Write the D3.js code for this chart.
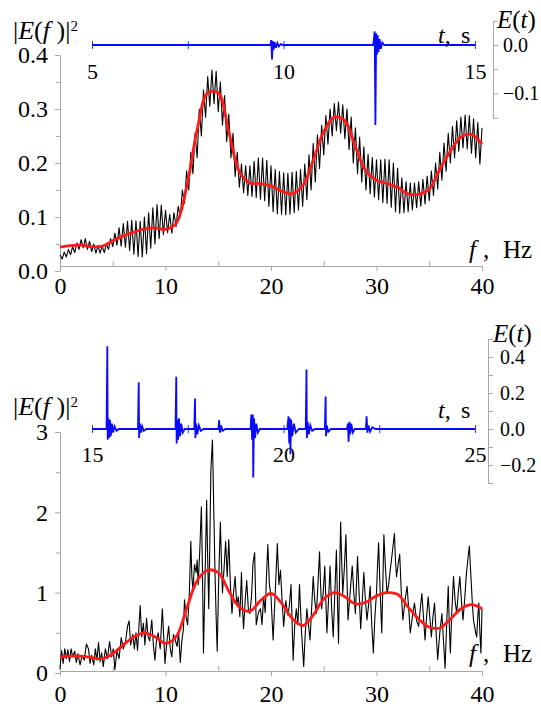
<!DOCTYPE html>
<html>
<head>
<meta charset="utf-8">
<script src="https://cdn.jsdelivr.net/npm/d3@7"></script>
<style>
  body { margin: 0; background: #fff; }
  text { font-family: "Liberation Serif", "Times New Roman", serif; }
</style>
</head>
<body>
<svg id="chart" width="541" height="706"></svg>
<script>
// ---------- data ----------
// upper panel: fine oscillation of |E(f)|^2, peaks at 0, 0.4, 0.8 ... Hz, troughs half-way between
const topPeaks = [
  .030, .035, .040, .045, .052, .058, .060, .055, .050, .047,
  .046, .050, .060, .070, .080, .088, .092, .094, .093, .092,
  .100, .108, .117, .123, .122, .112, .105, .108, .120, .150,
  .185, .220, .255, .300, .335, .360, .372, .370, .350, .325,
  .290, .255, .220, .198, .195, .195, .203, .209, .209, .205,
  .195, .188, .184, .182, .181, .183, .184, .188, .198, .215,
  .236, .252, .270, .288, .300, .310, .313, .308, .300, .285,
  .265, .248, .230, .216, .210, .206, .206, .207, .206, .200,
  .190, .172, .165, .163, .163, .165, .170, .176, .185, .200,
  .220, .237, .255, .268, .278, .285, .289, .288, .282, .275,
  .265
];
const topTroughs = [
  .022, .026, .030, .034, .040, .043, .040, .036, .033, .033,
  .034, .040, .045, .048, .046, .044, .038, .031, .027, .026,
  .032, .042, .050, .060, .067, .071, .070, .082, .100, .125,
  .150, .180, .210, .250, .285, .305, .310, .295, .270, .240,
  .210, .175, .155, .145, .140, .138, .136, .133, .130, .120,
  .110, .106, .105, .104, .105, .108, .113, .120, .132, .150,
  .165, .190, .215, .235, .250, .260, .255, .245, .225, .200,
  .180, .165, .150, .143, .137, .132, .127, .125, .118, .110,
  .107, .108, .110, .113, .117, .120, .124, .130, .140, .152,
  .168, .185, .200, .210, .222, .228, .226, .218, .210, .198
];
const topStep = 0.4;
// smoothed spectrum, 0..40 Hz every 1 Hz
const topSmooth = [
  .044, .047, .048, .045, .046, .056, .065, .072, .078, .080,
  .077, .088, .155, .262, .330, .330, .258, .184, .163, .162,
  .158, .148, .143, .158, .205, .258, .285, .278, .230, .185,
  .168, .162, .155, .143, .142, .152, .188, .222, .248, .253,
  .235
];
// E(t) record, [t (s), E]
const topPulse = [
  [5, 0], [9.66, 0], [9.68, .010], [9.70, -.030], [9.72, .008], [9.74, -.010],
  [9.77, .006], [9.80, -.006], [9.84, .004], [9.88, -.003], [9.93, .002], [9.98, 0],
  [12.34, 0], [12.36, .012], [12.38, .028], [12.40, -.165], [12.42, .024], [12.44, -.020],
  [12.46, .020], [12.48, -.015], [12.51, .012], [12.54, -.008], [12.58, .005], [12.63, 0],
  [15, 0]
];

// lower panel: |E(f)|^2, [f (Hz), value]
const bottomSpectrum = [
  [0, .05], [.15, .28], [.3, .12], [.45, .30], [.6, .18], [.75, .29], [.9, .14], [1.05, .30],
  [1.2, .20], [1.4, .27], [1.55, .13], [1.7, .24], [1.9, .10], [2.1, .22], [2.3, .16], [2.5, .36],
  [2.7, .30], [2.85, .12], [3, .22], [3.2, .10], [3.35, .30], [3.5, .16], [3.65, .38], [3.8, .14],
  [3.95, .25], [4.1, .08], [4.3, .30], [4.5, .18], [4.7, .39], [4.9, .20], [5.05, .30], [5.2, .04],
  [5.4, .28], [5.6, .18], [5.8, .44], [6, .30], [6.2, .38], [6.4, .58], [6.55, .65], [6.7, .35],
  [6.9, .48], [7.05, .30], [7.2, .50], [7.35, .28], [7.6, .84], [7.75, .45], [7.9, .62], [8.05, .35],
  [8.2, .68], [8.35, .45], [8.5, .40], [8.7, .66], [8.85, .35], [9, .16], [9.15, .42], [9.3, .50],
  [9.5, .30], [9.7, .80], [9.85, .40], [9.95, .12], [10.1, .35], [10.3, .58], [10.45, .30], [10.6, .20],
  [10.75, .48], [10.9, .42], [11.1, .33], [11.25, .50], [11.4, .13], [11.55, .40], [11.7, .55], [11.8, .91],
  [11.95, .70], [12.1, .60], [12.25, .95], [12.4, 1.64], [12.5, 1.20], [12.6, 1.03], [12.75, 1.35], [12.9, 1.25],
  [13, 1.41], [13.1, 1.10], [13.25, 1.53], [13.4, 2.07], [13.5, 1.30], [13.6, .25], [13.75, 1.20], [13.9, 2.15],
  [14, 1.40], [14.1, .80], [14.2, 1.60], [14.3, 2.53], [14.45, 2.90], [14.55, 2.20], [14.7, 1.20], [14.8, .70],
  [14.9, .27], [15.05, 1.20], [15.2, 1.88], [15.3, 1.40], [15.4, 1.00], [15.55, 1.30], [15.7, 1.64], [15.85, 1.20],
  [16, 1.66], [16.15, 1.10], [16.3, .74], [16.45, 1.00], [16.6, 1.20], [16.75, .85], [16.9, .95], [17.05, .70],
  [17.2, 1.25], [17.3, .80], [17.4, .55], [17.55, .90], [17.7, 1.15], [17.85, .80], [18, .74], [18.15, .95],
  [18.3, 1.37], [18.45, 1.50], [18.6, .60], [18.8, .75], [19, .80], [19.15, .60], [19.3, .95], [19.45, .75],
  [19.6, 1.30], [19.7, 1.60], [19.85, 1.10], [20, .95], [20.2, .41], [20.4, 1.00], [20.6, 1.61], [20.75, 1.10],
  [20.9, 1.28], [21.05, .90], [21.2, .58], [21.4, .90], [21.6, .72], [21.75, .85], [21.9, 1.10], [22.1, .16],
  [22.25, .60], [22.4, .80], [22.55, .60], [22.7, 1.10], [22.9, .50], [23.1, .08], [23.25, .50], [23.4, .80],
  [23.55, .60], [23.7, .41], [23.85, .80], [24, 1.20], [24.15, .90], [24.3, .74], [24.45, 1.10], [24.6, 1.51],
  [24.7, 1.10], [24.8, .80], [24.95, 1.00], [25.1, 1.33], [25.2, .90], [25.3, .50], [25.45, .90], [25.6, 1.33],
  [25.75, .80], [25.9, .45], [26.05, 1.00], [26.2, 1.53], [26.3, .90], [26.4, .37], [26.5, 1.20], [26.6, 1.88],
  [26.7, 1.40], [26.8, .99], [26.95, 1.30], [27.1, 1.72], [27.2, 1.20], [27.3, .66], [27.5, 1.00], [27.7, 1.33],
  [27.85, 1.00], [28, .74], [28.1, 1.10], [28.2, 1.45], [28.35, 1.00], [28.5, .55], [28.65, .90], [28.8, 1.25],
  [28.95, .90], [29.1, .66], [29.25, .85], [29.4, 1.08], [29.55, .60], [29.7, .25], [29.85, .70], [30, 1.00],
  [30.1, 1.35], [30.2, 1.62], [30.35, 1.00], [30.5, .50], [30.6, 1.10], [30.7, 1.72], [30.85, 1.30], [31, .99],
  [31.15, 1.10], [31.3, 1.28], [31.5, 1.50], [31.7, 1.74], [31.8, 1.40], [31.9, 1.20], [32.05, 1.35], [32.2, 1.48],
  [32.35, 1.00], [32.5, .66], [32.7, .90], [32.9, 1.08], [33.05, .80], [33.2, .50], [33.4, .70], [33.6, .87],
  [33.8, .65], [34, .58], [34.15, .80], [34.3, .99], [34.45, .70], [34.6, .41], [34.75, .70], [34.9, .95],
  [35.05, .70], [35.2, .45], [35.35, .70], [35.5, .87], [35.65, .50], [35.8, .17], [36, .50], [36.2, .74],
  [36.35, .40], [36.5, .06], [36.65, .60], [36.8, 1.08], [36.9, .60], [37, .25], [37.15, .80], [37.3, 1.20],
  [37.45, .90], [37.6, .74], [37.75, 1.00], [37.9, 1.20], [38.05, .90], [38.2, .66], [38.35, .90], [38.5, 1.20],
  [38.65, 1.40], [38.8, 1.58], [38.95, 1.20], [39.1, .83], [39.2, .65], [39.3, .58], [39.4, .50], [39.5, .45],
  [39.6, .70], [39.7, .87], [39.8, .50], [39.9, .25], [40, .80]
];
const bottomSmooth = [
  .20, .21, .21, .19, .18, .24, .35, .45, .50, .45,
  .37, .45, .80, 1.15, 1.28, 1.25, 1.02, .82, .77, .90,
  .99, .87, .68, .59, .72, .92, 1.00, .95, .86, .88,
  .96, 1.00, .98, .82, .67, .57, .56, .67, .80, .85,
  .80
];
const bottomPulse = [
  [15, 0],
  [15.38, 0], [15.40, .46], [15.41, -.06], [15.43, .06], [15.45, -.05], [15.47, .05], [15.49, -.04],
  [15.52, .03], [15.55, -.02], [15.59, .015], [15.64, -.01], [15.70, 0],
  [16.20, 0], [16.22, .26], [16.23, -.05], [16.25, .03], [16.28, -.02], [16.31, .015], [16.35, -.01], [16.42, 0],
  [17.18, 0], [17.20, .29], [17.21, -.08], [17.23, .05], [17.25, -.06], [17.27, .06], [17.30, -.04],
  [17.33, .03], [17.37, -.02], [17.42, 0],
  [17.67, 0], [17.69, .17], [17.70, -.05], [17.72, .03], [17.75, -.03], [17.79, .02], [17.84, -.01], [17.92, 0],
  [18.30, 0], [18.32, .05], [18.34, -.02], [18.37, .02], [18.41, -.01], [18.48, 0],
  [19.14, 0], [19.16, .08], [19.18, -.06], [19.20, .08], [19.21, -.27], [19.23, .06], [19.26, -.05],
  [19.29, .03], [19.33, -.02], [19.38, 0],
  [20.10, 0], [20.13, .07], [20.15, -.08], [20.17, .06], [20.18, -.14], [20.20, .05], [20.23, -.04],
  [20.27, .03], [20.32, -.02], [20.40, 0],
  [20.58, 0], [20.60, .33], [20.61, -.05], [20.63, .04], [20.66, -.03], [20.70, .02], [20.75, -.01], [20.82, 0],
  [21.08, 0], [21.10, .18], [21.11, -.04], [21.13, .02], [21.17, -.015], [21.24, 0],
  [21.66, 0], [21.68, .03], [21.70, -.07], [21.72, .04], [21.74, -.03], [21.77, .03], [21.81, -.02], [21.86, 0],
  [22.15, 0], [22.17, .07], [22.19, -.02], [22.22, .02], [22.26, -.015], [22.32, .01], [22.40, 0],
  [25, 0]
];

// ticks
const freqTicks = [0, 10, 20, 30, 40];
const freqMinor = [5, 15, 25, 35];
const topPowerTicks = [0, .1, .2, .3, .4];
const topPowerMinor = [.05, .15, .25, .35];
const bottomPowerTicks = [0, 1, 2, 3];
const bottomPowerMinor = [.5, 1.5, 2.5];
const topTimeTicks = [5, 10, 15];
const topTimeMinor = [7.5, 12.5];
const topETicks = [0, -.1];
const topEMinor = [.05, -.05, -.15];
const bottomTimeTicks = [15, 20, 25];
const bottomTimeMinor = [17.5, 22.5];
const bottomETicks = [.4, .2, 0, -.2];
const bottomEMinor = [.5, .3, .1, -.1, -.3];

// ---------- drawing ----------
const svg = d3.select("#chart");
const serif = "Liberation Serif, Times New Roman, serif";
const gray = "#a8a8a8";

function styleAxis(g, size) {
  g.attr("font-family", serif).attr("font-size", size);
  g.selectAll(".domain").attr("stroke", gray);
  g.selectAll(".tick line").attr("stroke", gray);
  g.selectAll(".tick text").attr("fill", "#000");
}

function drawPanel(p) {
  const x = d3.scaleLinear([0, 40], [60, 482]);
  const y = d3.scaleLinear(p.yDomain, p.yRange);

  // frequency axis (major ticks out, minor ticks in)
  svg.append("g")
    .attr("transform", `translate(0,${p.axisY})`)
    .call(d3.axisBottom(x).tickValues(freqTicks).tickSize(5).tickSizeOuter(0)
      .tickPadding(p.xPad).tickFormat(d3.format("d")))
    .call(g => styleAxis(g, 24));
  svg.append("g")
    .attr("transform", `translate(0,${p.axisY})`)
    .call(d3.axisTop(x).tickValues(freqMinor).tickSize(5).tickFormat(""))
    .call(g => g.select(".domain").remove())
    .call(g => styleAxis(g, 24));

  // power axis
  svg.append("g")
    .attr("transform", "translate(60,0)")
    .call(d3.axisLeft(y).tickValues(p.yTicks).tickSize(5).tickSizeOuter(0)
      .tickPadding(7).tickFormat(p.yFormat))
    .call(g => styleAxis(g, 24));
  svg.append("g")
    .attr("transform", "translate(60,0)")
    .call(d3.axisLeft(y).tickValues(p.yMinor).tickSize(4).tickFormat(""))
    .call(g => g.select(".domain").remove())
    .call(g => styleAxis(g, 24));

  // raw spectrum
  svg.append("path")
    .datum(p.raw)
    .attr("d", d3.line().x(d => x(d[0])).y(d => y(d[1])))
    .attr("fill", "none")
    .attr("stroke", "#000")
    .attr("stroke-width", 1.1)
    .attr("stroke-linejoin", "round");

  // smoothed spectrum
  svg.append("path")
    .datum(p.smooth)
    .attr("d", d3.line().curve(d3.curveCatmullRom.alpha(0.5))
      .x((d, i) => x(i)).y(d => y(d)))
    .attr("fill", "none")
    .attr("stroke", "#ff1a1a")
    .attr("stroke-width", 2.8);

  // inset E(t)
  const t = d3.scaleLinear(p.tDomain, [92, 475]);
  const e = d3.scaleLinear(p.eDomain, p.eRange);
  const y0 = e(0);

  svg.append("g")
    .attr("transform", `translate(${p.eAxisX},0)`)
    .call(d3.axisRight(e).tickValues(p.eTicks).tickSize(5).tickSizeOuter(0)
      .tickPadding(p.ePad).tickFormat(d3.format(".1f")))
    .call(g => styleAxis(g, 20));
  svg.append("g")
    .attr("transform", `translate(${p.eAxisX},0)`)
    .call(d3.axisRight(e).tickValues(p.eMinor).tickSize(5).tickFormat(""))
    .call(g => g.select(".domain").remove())
    .call(g => styleAxis(g, 20));

  [d3.axisBottom, d3.axisTop].forEach(ax => {
    svg.append("g")
      .attr("transform", `translate(0,${y0})`)
      .call(ax(t).tickValues(p.tTicks.concat(p.tMinor)).tickSize(4).tickFormat(""))
      .call(g => g.select(".domain").remove())
      .call(g => g.selectAll(".tick line").attr("stroke", "#3030ff"));
  });
  svg.append("g")
    .attr("transform", `translate(0,${y0})`)
    .call(d3.axisBottom(t).tickValues(p.tTicks).tickSize(0).tickPadding(p.tPad)
      .tickFormat(d3.format("d")))
    .call(g => g.select(".domain").remove())
    .call(g => styleAxis(g, 22));

  svg.append("path")
    .datum(p.pulse)
    .attr("d", d3.line().x(d => t(d[0])).y(d => e(d[1])))
    .attr("fill", "none")
    .attr("stroke", "#0a0aff")
    .attr("stroke-width", 1.8);

  // labels
  const lab = (px, py, size) => svg.append("text")
    .attr("x", px).attr("y", py)
    .attr("font-family", serif).attr("font-size", size).attr("fill", "#000");

  const yl = lab(13, p.yLabelY, 26);
  yl.append("tspan").text("|");
  yl.append("tspan").attr("font-style", "italic").text("E");
  yl.append("tspan").text("(");
  yl.append("tspan").attr("font-style", "italic").text("f");
  yl.append("tspan").text("\u00a0)|");
  yl.append("tspan").attr("font-size", 15).attr("dy", -8).text("2");

  const fl = lab(469, p.fLabelY, 25);
  fl.append("tspan").attr("font-style", "italic").text("f");
  fl.append("tspan").attr("x", 483).text(",");
  fl.append("tspan").attr("x", 503).text("Hz");

  const tl = lab(438, p.tLabelY, 24);
  tl.append("tspan").attr("font-style", "italic").text("t");
  tl.append("tspan").text(",");
  tl.append("tspan").attr("x", 461).text("s");

  const el = lab(p.eLabelX, p.eLabelY, 25);
  el.append("tspan").attr("font-style", "italic").text("E");
  el.append("tspan").text("(");
  el.append("tspan").attr("font-style", "italic").text("t");
  el.append("tspan").text(")");
}

const topRaw = [];
topPeaks.forEach((v, i) => {
  topRaw.push([i * topStep, v]);
  if (i < topTroughs.length) topRaw.push([i * topStep + topStep / 2, topTroughs[i]]);
});

drawPanel({
  yDomain: [0, .4], yRange: [271, 55], axisY: 266, xPad: 6,
  yTicks: topPowerTicks, yMinor: topPowerMinor, yFormat: d3.format(".1f"),
  raw: topRaw, smooth: topSmooth,
  tDomain: [5, 15], eDomain: [-.15, .05], eRange: [117.75, 20.75],
  eAxisX: 493, ePad: 5, eTicks: topETicks, eMinor: topEMinor,
  tTicks: topTimeTicks, tMinor: topTimeMinor, tPad: 18, pulse: topPulse,
  yLabelY: 39, fLabelY: 258, tLabelY: 43, eLabelX: 497, eLabelY: 28
});

drawPanel({
  yDomain: [0, 3], yRange: [673, 432], axisY: 671, xPad: 9,
  yTicks: bottomPowerTicks, yMinor: bottomPowerMinor, yFormat: d3.format("d"),
  raw: bottomSpectrum, smooth: bottomSmooth,
  tDomain: [15, 25], eDomain: [-.3, .5], eRange: [483, 339],
  eAxisX: 488, ePad: 7, eTicks: bottomETicks, eMinor: bottomEMinor,
  tTicks: bottomTimeTicks, tMinor: bottomTimeMinor, tPad: 17, pulse: bottomPulse,
  yLabelY: 415, fLabelY: 662, tLabelY: 418, eLabelX: 493, eLabelY: 342
});
</script>
</body>
</html>
